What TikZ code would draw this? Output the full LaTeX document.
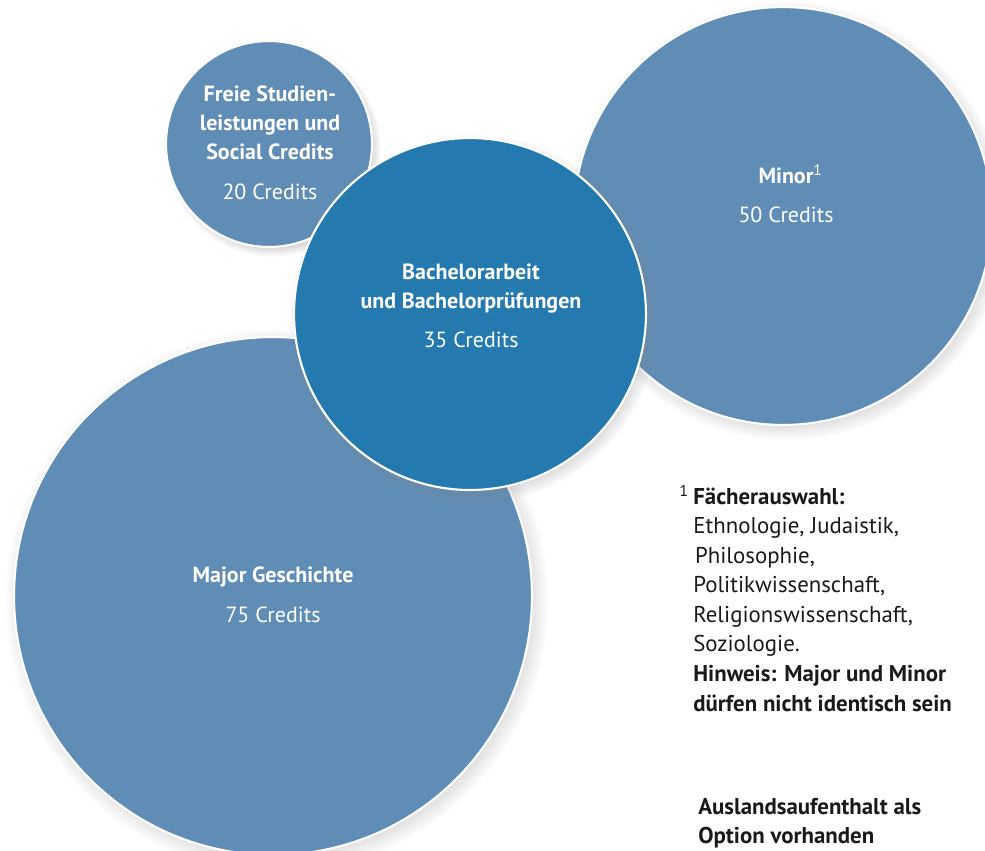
\documentclass[tikz,border=0pt]{standalone}
\usepackage{fontspec}
\setmainfont{PT Sans}
\usetikzlibrary{shadows,fadings}
\definecolor{lightblue}{RGB}{96,141,181}
\definecolor{darkblue}{RGB}{36,121,175}
\definecolor{notegray}{RGB}{26,26,26}

\begin{document}
\begin{tikzpicture}[x=0.02cm, y=-0.02cm,
        bubble/.style={circle, draw=white, line width=1.2pt, fill=lightblue, inner sep=0pt,
            circular drop shadow={shadow xshift=2pt, shadow yshift=-2.5pt, shadow scale=1.05, opacity=0.5}},
        title/.style={align=center, text=white, font=\fontsize{12.5}{16.5}\selectfont\bfseries},
        note/.style={align=left, anchor=north west, inner sep=0pt, text=notegray, font=\fontsize{13}{16.8}\selectfont}]
        \clip (0, 0) rectangle (985, 850);
        % bubbles, Bachelor last so that it lies on top
        \node [bubble, minimum size=4.12cm] (freie) at (269, 144) {};
        \node [bubble, minimum size=8.36cm] (minor) at (783, 216) {};
        \node [bubble, minimum size=10.36cm] (major) at (273, 596) {};
        \node [bubble, minimum size=7.04cm, fill=darkblue] (bachelor) at (470, 314) {};

        \node [title] (freietext) at (270, 143) {Freie Studien-\\leistungen und\\Social Credits\\[6pt]{\mdseries 20 Credits}};
        \node [title] (minortext) at (786, 194) {Minor\rlap{\textsuperscript{\mdseries 1}}\\[6pt]{\mdseries 50 Credits}};
        \node [title] (majortext) at (273, 595) {Major Geschichte\\[6pt]{\mdseries 75 Credits}};
        \node [title] (bachelortext) at (471, 306) {Bachelorarbeit\\und Bachelorprüfungen\\[6pt]{\mdseries 35 Credits}};

        % footnote
        \node [note] (fnote) at (693, 485) {\llap{\textsuperscript{1}\hspace{2.5pt}}\textbf{Fächerauswahl:}\\Ethnologie, Judaistik,\\\hspace{1pt}Philosophie,\\Politikwissenschaft,\\Religionswissenschaft,\\Soziologie.\\\textbf{Hinweis: Major und Minor}\\\textbf{dürfen nicht identisch sein}};
        \node [note, font=\fontsize{13}{16.5}\selectfont\bfseries] (ausland) at (698, 798) {Auslandsaufenthalt als\\Option vorhanden};
\end{tikzpicture}
\end{document}
